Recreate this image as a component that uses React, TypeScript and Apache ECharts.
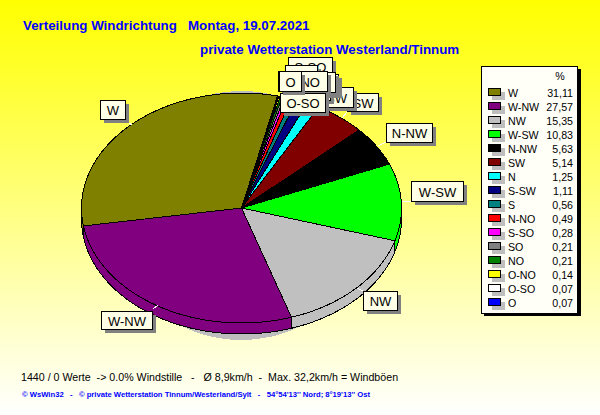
import React, { useEffect, useRef } from "react";
import * as echarts from "echarts";

const categories = ["W", "W-NW", "NW", "W-SW", "N-NW", "SW", "N", "S-SW", "S", "N-NO", "S-SO", "SO", "NO", "O-NO", "O-SO", "O"];
const percentValues = [31.11, 27.57, 15.35, 10.83, 5.63, 5.14, 1.25, 1.11, 0.56, 0.49, 0.28, 0.21, 0.21, 0.14, 0.07, 0.07];
const percentLabels = ["31,11", "27,57", "15,35", "10,83", "5,63", "5,14", "1,25", "1,11", "0,56", "0,49", "0,28", "0,21", "0,21", "0,14", "0,07", "0,07"];
const sliceColors = ["#808000", "#800080", "#C0C0C0", "#00FF00", "#000000", "#800000", "#00FFFF", "#000080", "#008080", "#FF0000", "#FF00FF", "#808080", "#008000", "#FFFF00", "#FFFFFF", "#0000FF"];

const titleLine1 = "Verteilung Windrichtung\u00A0\u00A0\u00A0Montag, 19.07.2021";
const titleLine2 = "private Wetterstation Westerland/Tinnum";
const footerLine1 = "1440 / 0 Werte  -> 0.0% Windstille   -   Ø 8,9km/h  -  Max. 32,2km/h = Windböen";
const footerLine2 = "© WsWin32   -   © private Wetterstation Tinnum/Westerland/Sylt   -   54°54'13'' Nord; 8°19'13'' Ost";

// box layout of the callouts, in category order (later ones lie on top): x, y, w, h
const calloutBoxes = [
  [100, 100, 25, 19], [101, 311, 51, 18], [363, 291, 34, 19], [411, 181, 52, 20],
  [386, 123, 46, 19], [347, 93, 31, 18], [314, 76, 20, 20], [306, 87, 47, 20],
  [310, 80, 20, 20], [298, 74, 40, 20], [288, 57, 44, 18], [285, 65, 32, 20],
  [305, 72, 30, 20], [278, 71, 49, 20], [280, 93, 45, 19], [279, 71, 22, 20],
];
const leaderLines = [
  [129, 123, 132, 125], [153, 309, 158, 305], [357, 288, 363, 291], [402, 201, 411, 201],
  [378, 146, 386, 142], [342, 118, 347, 112],
];

const CX = 241.5;
const CY = 208;
const RX = 160;
const RY = 115;
const DEPTH = 11;
const START_DEG = 77;
const UI_FONT = "Liberation Sans";

const total = percentValues.reduce((a, b) => a + b, 0);
function sliceAngles(i: number): [number, number] {
  let before = 0;
  for (let k = 0; k < i; k++) before += percentValues[k];
  const a = START_DEG + (before / total) * 360;
  return [a, a + (percentValues[i] / total) * 360];
}
function pt(deg: number, dy = 0): number[] {
  const r = (deg * Math.PI) / 180;
  return [CX + RX * Math.cos(r), CY - RY * Math.sin(r) + dy];
}
function arc(a: number, b: number, dy = 0): number[][] {
  const n = Math.max(2, Math.ceil(Math.abs(b - a) / 1.5));
  const out: number[][] = [];
  for (let i = 0; i <= n; i++) out.push(pt(a + ((b - a) * i) / n, dy));
  return out;
}

function renderFace(params: any) {
  const i = params.dataIndex;
  const [a, b] = sliceAngles(i);
  return {
    type: "polygon",
    shape: { points: [[CX, CY], ...arc(a, b)] },
    style: { fill: sliceColors[i], stroke: "#000", lineWidth: 1 },
  };
}
function renderBand(params: any) {
  const i = params.dataIndex;
  const [a, b] = sliceAngles(i);
  // visible rim: the part of the slice on the lower half of the ellipse
  const ranges = [[180, 360], [540, 720]];
  const children: any[] = [];
  for (const [lo, hi] of ranges) {
    const s = Math.max(a, lo);
    const e = Math.min(b, hi);
    if (e > s) {
      children.push({
        type: "polygon",
        shape: { points: [...arc(s, e), ...arc(e, s, DEPTH)] },
        style: { fill: sliceColors[i], stroke: "#000", lineWidth: 1 },
      });
    }
  }
  return { type: "group", children };
}

function text(str: string, x: number, y: number, font: string, fill: string, align = "left", z = 20) {
  return { type: "text", z, silent: true, style: { text: str, x, y, font, fill, align, verticalAlign: "middle" } };
}

function buildGraphics() {
  const g: any[] = [];
  // grey drop shadow of the pie
  g.push({ type: "ellipse", z: 0, silent: true, shape: { cx: CX, cy: 215.5, rx: 130, ry: 124.5 }, style: { fill: "#BEBEBE" } });

  // titles and footers
  g.push(text(titleLine1, 23, 25, `bold 13.33px "${UI_FONT}"`, "#0000FF"));
  g.push(text(titleLine2, 200, 49, `bold 13.33px "${UI_FONT}"`, "#0000FF"));
  g.push(text(footerLine1, 21, 377, `10.67px "${UI_FONT}"`, "#000000"));
  g.push(text(footerLine2, 22, 394, `bold 7.65px "${UI_FONT}"`, "#0000FF"));

  // leader lines
  leaderLines.forEach(([x1, y1, x2, y2]) =>
    g.push({ type: "line", z: 9, silent: true, shape: { x1, y1, x2, y2 }, style: { stroke: "#FFFFFF", lineWidth: 1 } })
  );

  // callouts
  calloutBoxes.forEach(([x, y, w, h], i) => {
    const z = 10 + i * 0.01;
    g.push({ type: "rect", z, silent: true, shape: { x: x + 4, y: y + 4, width: w, height: h }, style: { fill: "#808080" } });
    g.push({ type: "rect", z: z + 0.001, silent: true, shape: { x: x + 0.5, y: y + 0.5, width: w, height: h }, style: { fill: "#FFFFE8", stroke: "#000", lineWidth: 1 } });
    g.push(text(categories[i], x + w / 2 + 0.5, y + h / 2 + 1, `13px "${UI_FONT}"`, "#000000", "center", z + 0.002));
  });

  // legend panel
  g.push({ type: "rect", z: 30, silent: true, shape: { x: 484, y: 69, width: 97, height: 247 }, style: { fill: "#000" } });
  g.push({ type: "rect", z: 31, silent: true, shape: { x: 481.5, y: 66.5, width: 96, height: 247 }, style: { fill: "#FFFFF8", stroke: "#000", lineWidth: 1 } });
  g.push(text("%", 560, 76, `10.67px "${UI_FONT}"`, "#000", "center", 32));
  categories.forEach((name, i) => {
    const y = 92 + i * 14;
    g.push({ type: "rect", z: 32, silent: true, shape: { x: 492, y: y, width: 13, height: 8 }, style: { fill: "#BEBEBE" } });
    g.push({ type: "rect", z: 33, silent: true, shape: { x: 488.5, y: y - 4 + 0.5, width: 12, height: 7 }, style: { fill: sliceColors[i], stroke: "#000", lineWidth: 1 } });
    g.push(text(name, 508, y + 0.5, `10.67px "${UI_FONT}"`, "#000", "left", 33));
    g.push(text(percentLabels[i], 573, y + 0.5, `10.67px "${UI_FONT}"`, "#000", "right", 33));
  });
  return g;
}

export default function App() {
  const ref = useRef<HTMLDivElement>(null);
  useEffect(() => {
    if (!ref.current) return;
    document.body.style.margin = "0";
    const chart = echarts.init(ref.current, undefined, { renderer: "svg" });
    const data = categories.map((name, i) => ({ name, value: percentValues[i] }));
    chart.setOption({
      animation: false,
      backgroundColor: new echarts.graphic.LinearGradient(0, 0, 0, 1, [
        { offset: 0, color: "#FFFF00" },
        { offset: 1, color: "#FFFFFF" },
      ]),
      tooltip: { show: false },
      graphic: { elements: buildGraphics() },
      series: [
        { type: "custom", coordinateSystem: "none", z: 2, silent: true, renderItem: renderBand, data },
        { type: "custom", coordinateSystem: "none", z: 3, silent: true, renderItem: renderFace, data },
      ],
    });
    return () => chart.dispose();
  }, []);
  return (
    <div style={{ position: "absolute", left: 0, top: 0, width: 600, height: 415 }}>
      <style>{"svg path, svg rect, svg ellipse, svg line, svg polygon { shape-rendering: crispEdges; }"}</style>
      <div ref={ref} style={{ width: 600, height: 415 }} />
    </div>
  );
}
